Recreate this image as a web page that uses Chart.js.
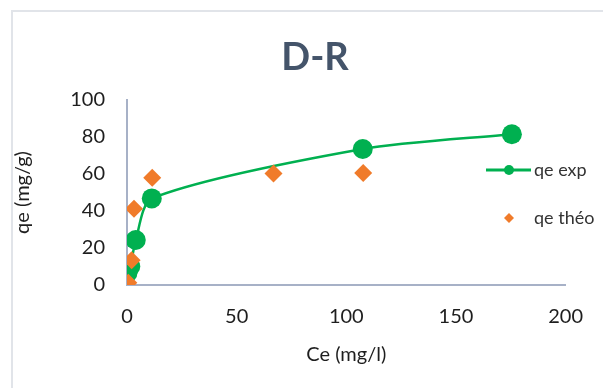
<!DOCTYPE html>
<html>
<head>
<meta charset="utf-8">
<title>D-R</title>
<script src="https://cdn.jsdelivr.net/npm/chart.js@4/dist/chart.umd.min.js"></script>
<style>
  html, body { margin: 0; padding: 0; background: #ffffff; }
  canvas { display: block; }
</style>
</head>
<body>
<canvas id="chart" width="603" height="388"></canvas>
<script>
// Dubinin-Radushkevich isotherm: experimental vs theoretical uptake
const chartTitle = 'D-R';
const xAxisTitle = 'Ce (mg/l)';
const yAxisTitle = 'qe (mg/g)';
const seriesLabels = ['qe exp', 'qe théo'];

const ceExp  = [0.2, 1.5, 4.0, 11.3, 107.5, 175.5];
const qeExp  = [6.5, 10.0, 24.3, 46.8, 73.5, 81.5];

const ceTheo = [0.6, 2.1, 3.2, 11.5, 66.8, 107.7];
const qeTheo = [1.2, 13.4, 41.2, 58.0, 60.3, 60.5];

const xTicks = [0, 50, 100, 150, 200];
const yTicks = [0, 20, 40, 60, 80, 100];

const GREEN = '#00B050';
const ORANGE = '#F07B2A';
const AXIS = '#A7B1C7';
const FONT = 'Lato, "Open Sans", sans-serif';

const toPoints = (xs, ys) => xs.map((x, i) => ({ x: x, y: ys[i] }));

// Frame, centred title and in-plot legend
const decorations = {
  id: 'decorations',
  beforeDraw(chart) {
    const ctx = chart.ctx;
    ctx.save();
    ctx.strokeStyle = '#E1E4E9';
    ctx.lineWidth = 2;
    ctx.beginPath();
    ctx.moveTo(12, chart.height);
    ctx.lineTo(12, 11);
    ctx.lineTo(chart.width, 11);
    ctx.stroke();
    ctx.restore();
  },
  afterDraw(chart) {
    const ctx = chart.ctx;
    ctx.save();
    // title
    ctx.fillStyle = '#44546A';
    ctx.font = 'bold 38px ' + FONT;
    ctx.textAlign = 'center';
    ctx.textBaseline = 'middle';
    ctx.fillText(chartTitle, 315, 58);

    // legend
    const ds = chart.data.datasets;
    const exp = ds.find(d => d.label === seriesLabels[0]);
    const theo = ds.find(d => d.label === seriesLabels[1]);
    const lx = 509, y1 = 170, y2 = 218;
    ctx.strokeStyle = exp.borderColor;
    ctx.lineWidth = 3;
    ctx.beginPath();
    ctx.moveTo(lx - 23, y1);
    ctx.lineTo(lx + 22, y1);
    ctx.stroke();
    ctx.fillStyle = exp.pointBackgroundColor;
    ctx.beginPath();
    ctx.arc(lx, y1, 5, 0, Math.PI * 2);
    ctx.fill();

    ctx.fillStyle = theo.pointBackgroundColor;
    ctx.beginPath();
    ctx.moveTo(lx - 5, y2);
    ctx.lineTo(lx, y2 - 5);
    ctx.lineTo(lx + 5, y2);
    ctx.lineTo(lx, y2 + 5);
    ctx.closePath();
    ctx.fill();

    ctx.fillStyle = '#333333';
    ctx.font = '18px ' + FONT;
    ctx.textAlign = 'left';
    ctx.textBaseline = 'middle';
    ctx.fillText(exp.label, 534, y1);
    ctx.fillText(theo.label, 534, y2);
    ctx.restore();
  }
};

function build() {
  new Chart(document.getElementById('chart'), {
    type: 'scatter',
    data: {
      datasets: [
        {
          label: seriesLabels[0],
          data: toPoints(ceExp, qeExp),
          showLine: true,
          borderColor: GREEN,
          borderWidth: 2.5,
          backgroundColor: GREEN,
          pointBackgroundColor: GREEN,
          pointBorderWidth: 0,
          pointRadius: 10,
          pointStyle: 'circle',
          tension: 0.25,
          order: 1
        },
        {
          label: seriesLabels[1],
          data: toPoints(ceTheo, qeTheo),
          showLine: false,
          backgroundColor: ORANGE,
          pointBackgroundColor: ORANGE,
          borderColor: ORANGE,
          pointBorderWidth: 0,
          pointRadius: 9,
          pointStyle: 'rectRot',
          order: 0
        }
      ]
    },
    options: {
      responsive: false,
      animation: false,
      layout: { padding: { top: 100, right: 35, bottom: 0, left: 0 } },
      plugins: {
        legend: { display: false },
        title: { display: false },
        tooltip: { enabled: false }
      },
      scales: {
        x: {
          type: 'linear',
          min: 0,
          max: 200,
          afterBuildTicks: s => { s.ticks = xTicks.map(v => ({ value: v })); },
          afterFit: s => { s.height = 103; },
          grid: { display: false, drawTicks: false },
          border: { display: true, color: AXIS, width: 2 },
          ticks: { color: '#1E1E1E', font: { family: FONT, size: 20 }, padding: 20, maxRotation: 0 },
          title: { display: true, text: xAxisTitle, color: '#1E1E1E', font: { family: FONT, size: 20 }, padding: { top: 0, bottom: 21 } }
        },
        y: {
          type: 'linear',
          min: 0,
          max: 100,
          afterBuildTicks: s => { s.ticks = yTicks.map(v => ({ value: v })); },
          afterFit: s => { s.width = 127; },
          grid: { display: false, drawTicks: false },
          border: { display: true, color: AXIS, width: 2 },
          ticks: { color: '#1E1E1E', font: { family: FONT, size: 20 }, padding: 22 },
          title: { display: true, text: yAxisTitle, color: '#1E1E1E', font: { family: FONT, size: 20 }, padding: { top: 11, bottom: 0 } }
        }
      }
    },
    plugins: [decorations]
  });
}

if (document.fonts && document.fonts.load) {
  Promise.all([
    document.fonts.load('20px Lato'),
    document.fonts.load('bold 38px Lato')
  ]).then(build, build);
} else {
  build();
}
</script>
</body>
</html>
